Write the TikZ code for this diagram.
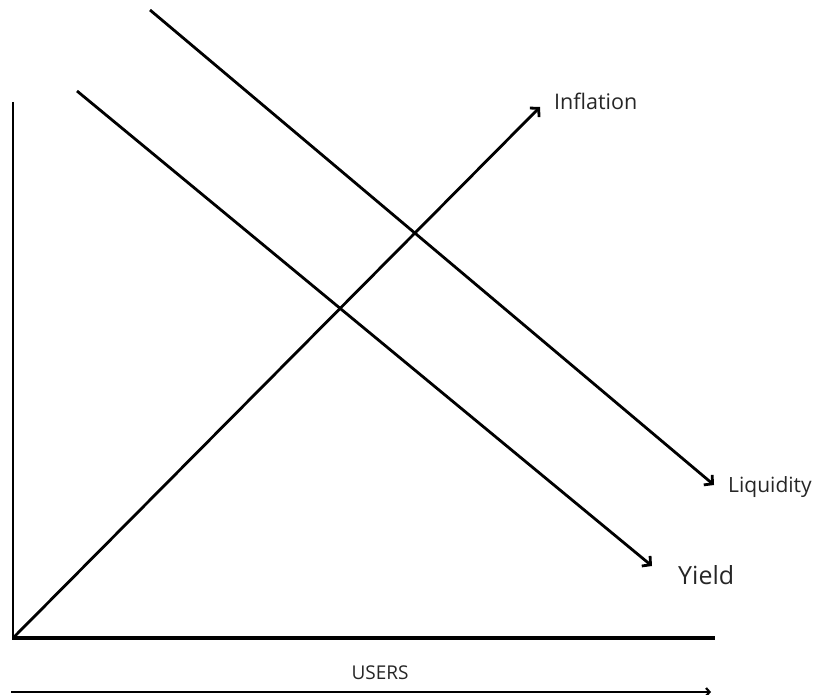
\documentclass[tikz,border=0pt]{standalone}
\usepackage{fontspec}
\setmainfont{Open Sans}
\usetikzlibrary{arrows.meta}
\tikzset{
  curve/.style={line width=2.8pt, -{Straight Barb[length=6pt,width=13pt,line width=2.8pt]}},
  axisline/.style={line width=2.8pt},
  baseaxis/.style={line width=3.6pt},
  usersarrow/.style={line width=2.2pt, -{Straight Barb[length=3.5pt,width=8pt,line width=2.2pt]}},
  lbl/.style={inner sep=0pt, text=black!85},
}
\begin{document}
\begin{tikzpicture}[x=1pt,y=-1pt]
  \useasboundingbox (0,0) rectangle (818,695);
  % axes
  \coordinate (O) at (14,637);
  \coordinate (ytop) at (13,102);
  \coordinate (xend) at (715,638);
  \draw[axisline] (ytop) -- (13,638);
  \draw[baseaxis] (12,638) -- (xend);
  % curves
  \coordinate (inftip) at (540,107);
  \coordinate (liqstart) at (150,10);
  \coordinate (liqtip) at (714,485);
  \coordinate (yldstart) at (77,91);
  \coordinate (yldtip) at (652,566);
  \draw[curve] (O) -- (inftip);
  \draw[curve] (liqstart) -- (liqtip);
  \draw[curve] (yldstart) -- (yldtip);
  % labels
  \node[lbl, anchor=west, font=\fontsize{21.5}{24}\selectfont] (inf) at (554,101) {Inflation};
  \node[lbl, anchor=west, font=\fontsize{21}{24}\selectfont] (liq) at (728,487) {Liquidity};
  \node[lbl, anchor=west, font=\fontsize{25}{28}\selectfont] (yld) at (678,575) {Yield};
  \node[lbl, font=\fontsize{19}{22}\selectfont] (users) at (380,673) {USERS};
  % users arrow
  \coordinate (ustart) at (11,692);
  \coordinate (uend) at (711,692);
  \draw[usersarrow] (ustart) -- (uend);
\end{tikzpicture}
\end{document}
